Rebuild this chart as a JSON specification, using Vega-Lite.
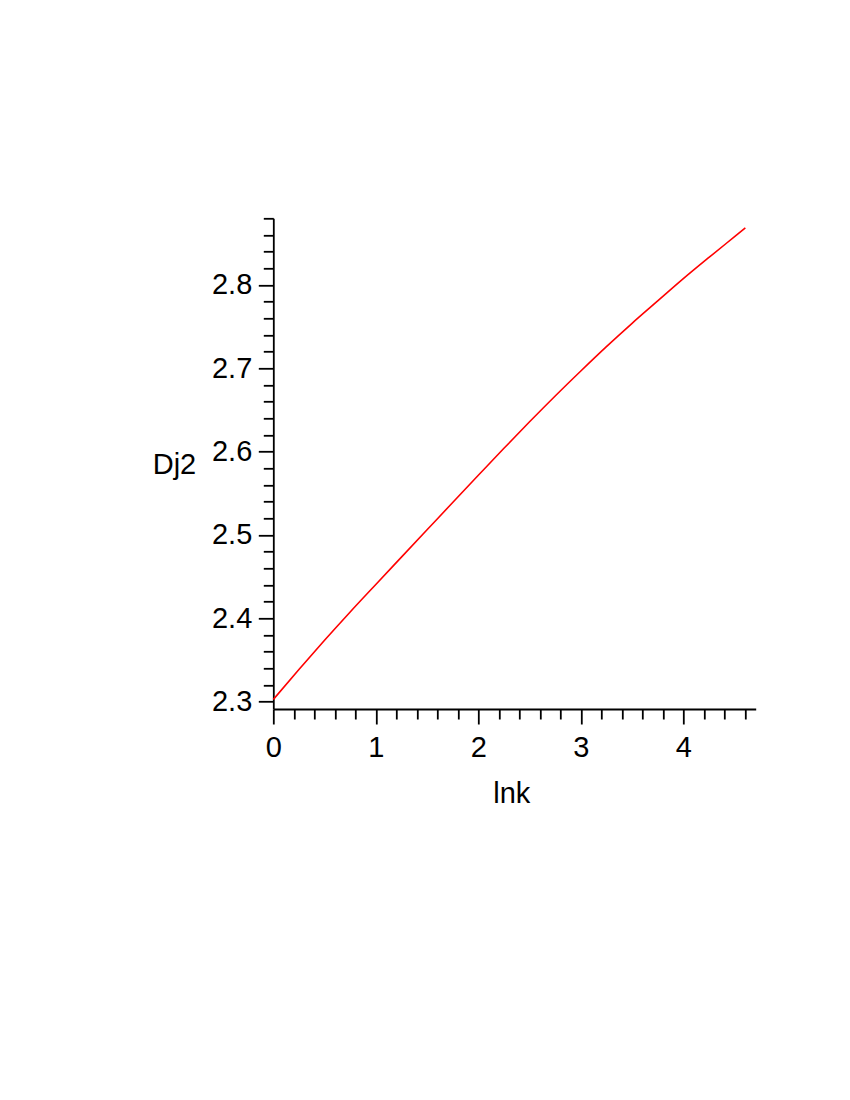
{
  "$schema": "https://vega.github.io/schema/vega-lite/v6.json",
  "width": 482.4,
  "height": 490.7,
  "autosize": {"type": "none"},
  "padding": {"left": 273.3, "top": 218.3, "right": 94.3, "bottom": 391},
  "background": "white",
  "config": {
    "view": {"stroke": null},
    "font": "Liberation Sans",
    "axis": {
      "grid": false,
      "domainColor": "black",
      "tickColor": "black",
      "labelColor": "black",
      "titleColor": "black",
      "labelFont": "Liberation Sans",
      "titleFont": "Liberation Sans",
      "labelFontSize": 29,
      "titleFontSize": 29,
      "titleFontWeight": "normal",
      "domainWidth": 1.8,
      "tickWidth": 1.8
    }
  },
  "data": {
    "values": [
      {"lnk": 0.0, "Dj2": 2.3026},
      {"lnk": 0.25, "Dj2": 2.3386},
      {"lnk": 0.5, "Dj2": 2.3736},
      {"lnk": 0.75, "Dj2": 2.4076},
      {"lnk": 1.0, "Dj2": 2.4406},
      {"lnk": 1.25, "Dj2": 2.4734},
      {"lnk": 1.5, "Dj2": 2.5062},
      {"lnk": 1.75, "Dj2": 2.5390},
      {"lnk": 2.0, "Dj2": 2.5716},
      {"lnk": 2.25, "Dj2": 2.6040},
      {"lnk": 2.5, "Dj2": 2.6358},
      {"lnk": 2.75, "Dj2": 2.6668},
      {"lnk": 3.0, "Dj2": 2.6968},
      {"lnk": 3.25, "Dj2": 2.7260},
      {"lnk": 3.5, "Dj2": 2.7540},
      {"lnk": 3.75, "Dj2": 2.7808},
      {"lnk": 4.0, "Dj2": 2.8075},
      {"lnk": 4.25, "Dj2": 2.8330},
      {"lnk": 4.5, "Dj2": 2.8580},
      {"lnk": 4.605, "Dj2": 2.8685}
    ]
  },
  "layer": [
    {
      "mark": {"type": "line", "strokeOpacity": 0},
      "encoding": {
        "x": {
          "field": "lnk", "type": "quantitative",
          "scale": {"domain": [0, 4.706], "nice": false, "zero": false},
          "axis": {
            "orient": "bottom",
            "values": [0.2, 0.4, 0.6, 0.8, 1.2, 1.4, 1.6, 1.8, 2.2, 2.4, 2.6, 2.8, 3.2, 3.4, 3.6, 3.8, 4.2, 4.4, 4.6],
            "labels": false, "domain": false, "title": null, "tickSize": 10
          }
        },
        "y": {
          "field": "Dj2", "type": "quantitative",
          "scale": {"domain": [2.2912, 2.88], "nice": false, "zero": false},
          "axis": {
            "orient": "left",
            "values": [2.32, 2.34, 2.36, 2.38, 2.42, 2.44, 2.46, 2.48, 2.52, 2.54, 2.56, 2.58, 2.62, 2.64, 2.66, 2.68, 2.72, 2.74, 2.76, 2.78, 2.82, 2.84, 2.86, 2.88],
            "labels": false, "domain": false, "title": null, "tickSize": 10
          }
        }
      }
    },
    {
      "mark": {"type": "line", "color": "#ff0000", "strokeWidth": 1.6, "interpolate": "monotone"},
      "encoding": {
        "x": {
          "field": "lnk", "type": "quantitative",
          "scale": {"domain": [0, 4.706], "nice": false, "zero": false},
          "axis": {
            "orient": "bottom",
            "values": [0, 1, 2, 3, 4],
            "format": "d",
            "tickSize": 15,
            "labelPadding": 9,
            "labelFlush": false,
            "labelOverlap": false,
            "title": "lnk",
            "titleX": 238,
            "titleY": 93.3,
            "titleAlign": "center",
            "titleBaseline": "alphabetic"
          }
        },
        "y": {
          "field": "Dj2", "type": "quantitative",
          "scale": {"domain": [2.2912, 2.88], "nice": false, "zero": false},
          "axis": {
            "orient": "left",
            "values": [2.3, 2.4, 2.5, 2.6, 2.7, 2.8],
            "format": ".1f",
            "tickSize": 15,
            "labelPadding": 6.5,
            "labelFlush": false,
            "labelOverlap": false,
            "title": "Dj2",
            "titleAngle": 0,
            "titleX": -77.6,
            "titleY": 255,
            "titleAlign": "right",
            "titleBaseline": "alphabetic"
          }
        }
      }
    }
  ],
  "resolve": {"axis": {"x": "independent", "y": "independent"}}
}
